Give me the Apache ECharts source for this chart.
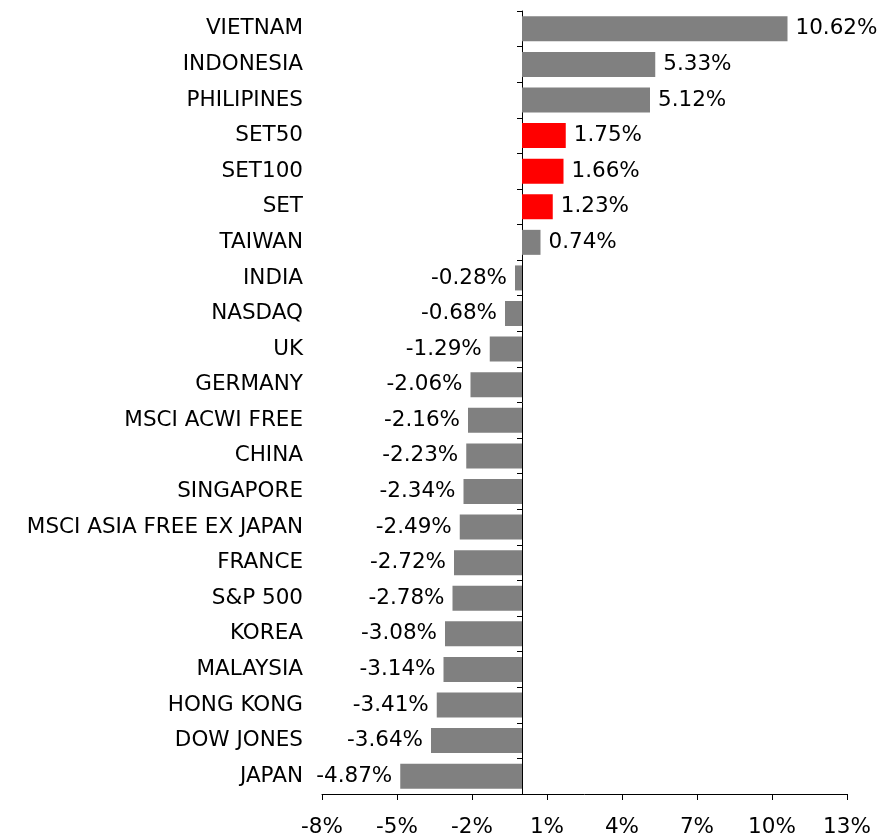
<!DOCTYPE html>
<html>
<head>
<meta charset="utf-8">
<script src="https://cdn.jsdelivr.net/npm/echarts@6/dist/echarts.min.js"></script>
<style>
html,body{margin:0;padding:0;background:#fff;}
#chart{width:882px;height:838px;}
</style>
</head>
<body>
<div id="chart"></div>
<script>
const categories = ["VIETNAM","INDONESIA","PHILIPINES","SET50","SET100","SET","TAIWAN","INDIA","NASDAQ","UK","GERMANY","MSCI ACWI FREE","CHINA","SINGAPORE","MSCI ASIA FREE EX JAPAN","FRANCE","S&P 500","KOREA","MALAYSIA","HONG KONG","DOW JONES","JAPAN"];
const values = [10.62,5.33,5.12,1.75,1.66,1.23,0.74,-0.28,-0.68,-1.29,-2.06,-2.16,-2.23,-2.34,-2.49,-2.72,-2.78,-3.08,-3.14,-3.41,-3.64,-4.87];
const highlighted = ["SET50","SET100","SET"];
const xTicks = [-8,-5,-2,1,4,7,10,13];

const FONT = "DejaVu Sans";
const FS = 21.5;

const seriesData = values.map((v, i) => ({
  value: v,
  itemStyle: { color: highlighted.includes(categories[i]) ? '#FF0000' : '#808080' },
  label: { position: v >= 0 ? 'right' : 'left' }
}));

const chart = echarts.init(document.getElementById('chart'), null, {renderer: 'canvas'});
chart.setOption({
  animation: false,
  backgroundColor: '#ffffff',
  grid: { left: 322, right: 35, top: 11, bottom: 44, containLabel: false, outerBoundsMode: 'none' },
  xAxis: {
    type: 'value',
    min: -8,
    max: 13,
    splitLine: { show: false },
    axisLine: { show: true, onZero: false, lineStyle: { color: '#000', width: 1 } },
    axisTick: { show: true, length: 6, customValues: xTicks, lineStyle: { color: '#000' } },
    axisLabel: {
      customValues: xTicks,
      margin: 22,
      color: '#000',
      fontFamily: FONT,
      fontSize: FS,
      formatter: v => v + '%'
    }
  },
  yAxis: {
    type: 'category',
    data: categories,
    inverse: true,
    axisLine: { show: true, onZero: true, lineStyle: { color: '#000', width: 1 } },
    axisTick: { show: true, length: 5, lineStyle: { color: '#000' } },
    axisLabel: {
      margin: 19,
      color: '#000',
      fontFamily: FONT,
      fontSize: FS,
      align: 'right'
    }
  },
  series: [{
    type: 'bar',
    data: seriesData,
    barWidth: 25,
    label: {
      show: true,
      distance: 8,
      color: '#000',
      fontFamily: FONT,
      fontSize: FS,
      formatter: p => p.value.toFixed(2) + '%'
    }
  }]
});
</script>
</body>
</html>
